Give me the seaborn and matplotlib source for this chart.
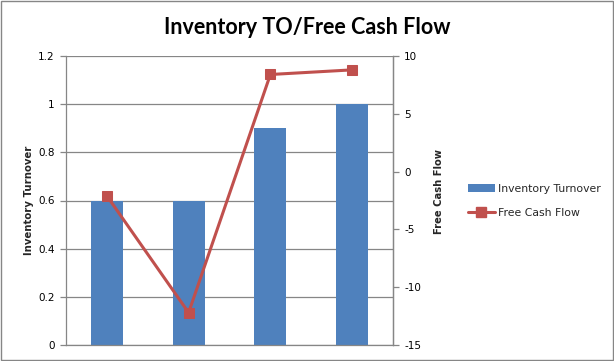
import matplotlib
matplotlib.use("Agg")
import matplotlib.pyplot as plt
import seaborn as sns
import numpy as np
import pandas as pd
from matplotlib.patches import Rectangle
from matplotlib.lines import Line2D
from matplotlib.patches import Patch

categories = ["Year 1", "Year 2", "Year 3", "Year 4"]
inventory_turnover = [0.6, 0.6, 0.9, 1.0]
free_cash_flow = [-2.1, -12.2, 8.4, 8.8]
left_ticks = [0, 0.2, 0.4, 0.6, 0.8, 1, 1.2]
left_tick_labels = ["0", "0.2", "0.4", "0.6", "0.8", "1", "1.2"]
right_ticks = [-15, -10, -5, 0, 5, 10]

sns.set_style("white")
plt.rcParams["font.family"] = ["DejaVu Sans"]
plt.rcParams["axes.unicode_minus"] = False

bar_color = "#4F81BD"
line_color = "#C0504D"
grid_color = "#868686"

fig = plt.figure(figsize=(6.14, 3.61), dpi=100)
ax = fig.add_axes([66/614, 1-345/361, (393-66)/614, (345-56)/361])

df = pd.DataFrame({"cat": categories, "it": inventory_turnover, "fcf": free_cash_flow})
sns.barplot(data=df, x="cat", y="it", color=bar_color, saturation=1, width=0.39,
            linewidth=0, edgecolor="none", ax=ax)
ax.set_ylim(0, 1.2)
ax.set_yticks(left_ticks)
ax.set_yticklabels(left_tick_labels)
ax.set_xlim(-0.5, len(categories)-0.5)
ax.set_xticks([])
ax.set_xlabel("")
ax.set_ylabel("Inventory Turnover", fontsize=7.3, fontweight="bold", family="DejaVu Sans", labelpad=3)
ax.yaxis.grid(True, color=grid_color, linewidth=0.9)
ax.set_axisbelow(True)
ax.spines["top"].set_visible(False)
for s in ["left", "bottom", "right"]:
    ax.spines[s].set_color(grid_color)
    ax.spines[s].set_linewidth(0.9)
ax.tick_params(axis="y", which="both", left=True, length=4, width=0.9, color=grid_color,
               labelsize=7.5, labelcolor="black", pad=4)

ax2 = ax.twinx()
xpos = np.arange(len(categories))
sns.lineplot(x=xpos, y=df["fcf"], color=line_color, linewidth=2.2, marker="s",
             markersize=7, markeredgecolor=line_color, ax=ax2, zorder=5)
ax2.set_ylim(-15, 10)
ax2.set_yticks(right_ticks)
ax2.set_xlim(-0.5, len(categories)-0.5)
ax2.set_ylabel("Free Cash Flow", fontsize=7.2, fontweight="bold", labelpad=9)
ax2.yaxis.label.set_y((345-191.5)/289)
for s in ["top", "left", "bottom"]:
    ax2.spines[s].set_visible(False)
ax2.spines["right"].set_color(grid_color)
ax2.spines["right"].set_linewidth(0.9)
ax2.tick_params(axis="y", right=True, length=4, width=0.9, color=grid_color,
                labelsize=7.5, labelcolor="black", pad=4)

fig.suptitle("Inventory TO/Free Cash Flow", x=0.5, y=1-28/361, va="center",
             fontsize=15.5, fontweight="bold", family="Lato", color="black")

handles = [Patch(facecolor=bar_color, edgecolor="none"),
           Line2D([0], [0], color=line_color, linewidth=2.2, marker="s", markersize=7)]
fig.legend(handles, ["Inventory Turnover", "Free Cash Flow"], loc="center left",
           bbox_to_anchor=(458/614, 1-201/361), frameon=False, fontsize=7.8,
           handlelength=2.5, handletextpad=0.3, labelspacing=1.3)

fig.patches.append(Rectangle((0.001, 0.002), 0.997, 0.996, transform=fig.transFigure,
                             fill=False, edgecolor=grid_color, linewidth=1))

fig.savefig("out.png", dpi=100)
